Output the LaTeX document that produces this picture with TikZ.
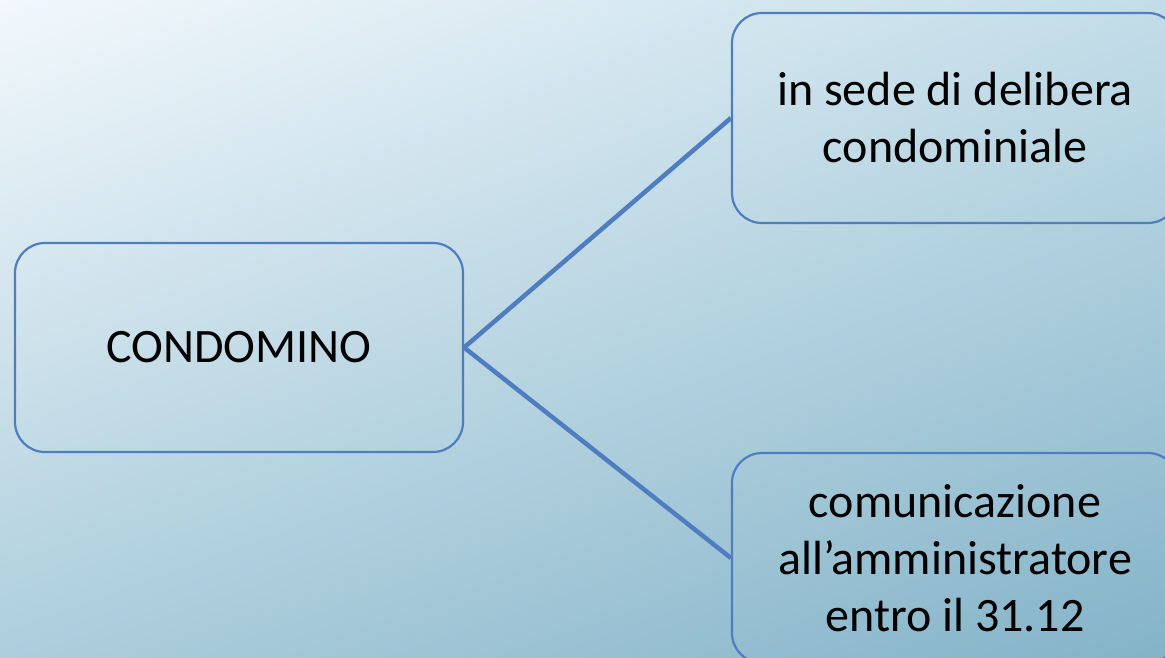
\documentclass[tikz,border=0pt]{standalone}
\usepackage{fontspec}
\setmainfont{Carlito}
\usetikzlibrary{shadings}
\definecolor{edgeblue}{HTML}{4F7EC0}
\definecolor{bgTL}{HTML}{F2F8FC}
\definecolor{bgTR}{HTML}{C3DDE8}
\definecolor{bgBL}{HTML}{ADCEDC}
\definecolor{bgBR}{HTML}{84B3C8}
\tikzset{
  topic/.style={draw=edgeblue, line width=2.2pt, rounded corners=30pt,
    align=center, inner sep=0pt, text=black,
    font=\fontsize{48}{57}\selectfont},
  link/.style={draw=edgeblue, line width=4.5pt}
}
\begin{document}
\begin{tikzpicture}[x=1pt,y=-1pt]
  \useasboundingbox (0,0) rectangle (1165,657);
  \clip (0,0) rectangle (1165,657);
  \shade[upper left=bgTL, upper right=bgTR, lower left=bgBL, lower right=bgBR]
    (0,0) rectangle (1165,657);

  \node[topic, minimum width=448pt, minimum height=209pt] (cond) at (239,347.5) {CONDOMINO};
  \node[topic, minimum width=446pt, minimum height=210pt] (delib) at (955,118)
    {in sede di delibera\\condominiale};
  \node[topic, minimum width=446pt, minimum height=210pt] (comm) at (955,558)
    {comunicazione\\all’amministratore\\entro il 31.12};

  \draw[link] (cond.east) -- (delib.west);
  \draw[link] (cond.east) -- (comm.west);
\end{tikzpicture}
\end{document}
